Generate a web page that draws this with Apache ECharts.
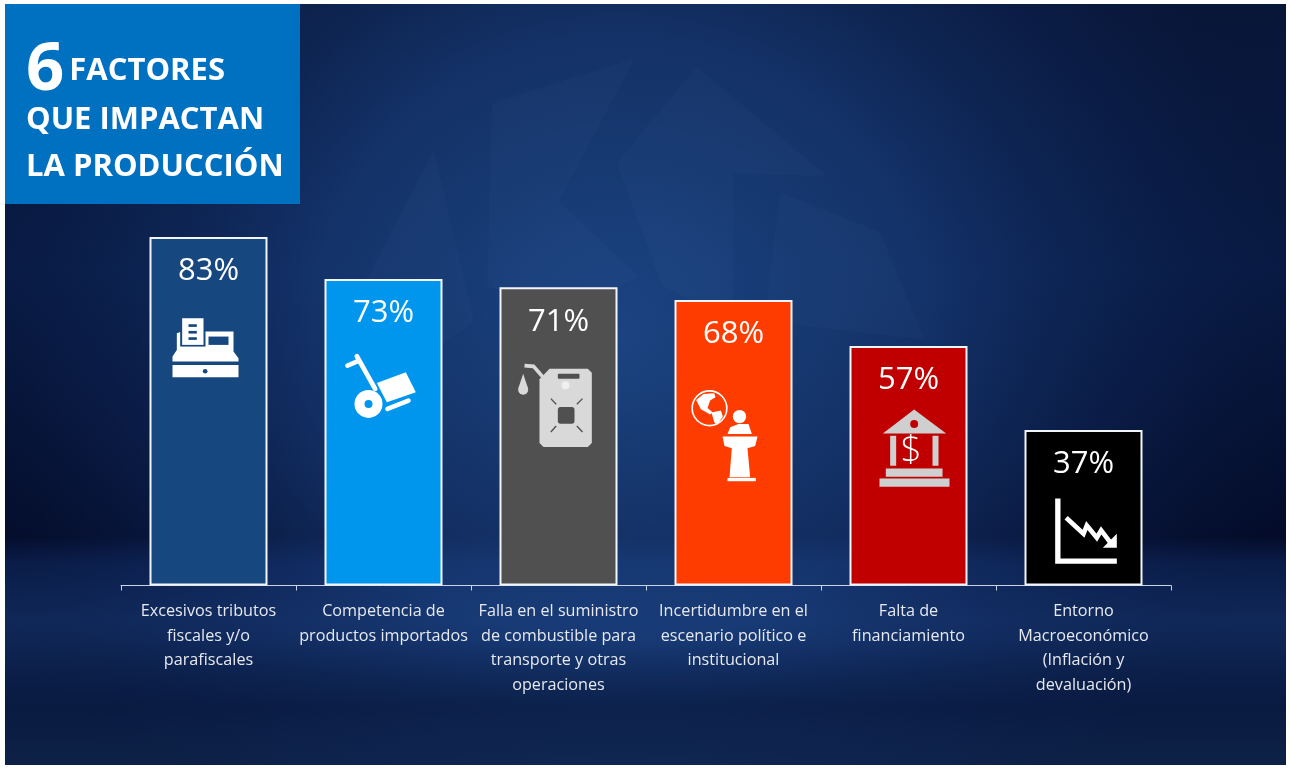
<!DOCTYPE html>
<html><head><meta charset="utf-8">
<style>html,body{margin:0;padding:0;background:#fff}#c{width:1290px;height:770px}</style>
<script src="https://cdn.jsdelivr.net/npm/echarts@6/dist/echarts.min.js"></script>
</head><body><div id="c"></div>
<script>
const categories = [
  'Excesivos tributos\nfiscales y/o\nparafiscales',
  'Competencia de\nproductos importados',
  'Falla en el suministro\nde combustible para\ntransporte y otras\noperaciones',
  'Incertidumbre en el\nescenario político e\ninstitucional',
  'Falta de\nfinanciamiento',
  'Entorno\nMacroeconómico\n(Inflación y\ndevaluación)'
];
const values = [83, 73, 71, 68, 57, 37];
const barColors = ['#17477f', '#0096ee', '#505050', '#ff3c00', '#c00000', '#000000'];

const W = '#ffffff', G = '#d9d9d9', B = '#cfcfcf';
const R = (x,y,w,h,fill,r) => ({type:'rect',shape:{x,y,width:w,height:h,r:r||0},style:{fill}});
const C = (cx,cy,r,fill) => ({type:'circle',shape:{cx,cy,r},style:{fill}});
const P = (points,fill) => ({type:'polygon',shape:{points},style:{fill}});
const L = (points,stroke,lineWidth,cap) => ({type:'polyline',shape:{points},style:{fill:null,stroke,lineWidth,lineCap:cap||'butt',lineJoin:'miter'}});

// Icon drawings, local units are 1/3 px, anchored on the top-centre of their bar
const icons = [
  {anchor:[205,21], draw:c=>[
    P([[110,310],[125,305],[280,305],[280,365],[295,385],[295,395],[97,395],[97,380],[110,360]],W),
    R(120,260,76,90,c), R(126,265,64,80,W),
    R(145,283,25,8,c), R(145,303,25,8,c), R(145,322,25,8,c),
    R(205,320,60,25,c),
    R(97,405,198,37,W), C(195,424,7,c)
  ]},
  {anchor:[730,150], draw:c=>[
    L([[622,410],[655,396]],W,14,'round'),
    L([[650,382],[705,480]],W,14,'round'),
    C(685,525,42,W), C(685,525,12,c),
    P([[710,462],[797,430],[827,490],[740,520]],W),
    L([[742,540],[805,515]],W,14,'round')
  ]},
  {anchor:[205,21], draw:c=>[
    L([[103,256],[130,258],[165,298]],G,11),
    P([[178,265],[293,265],[305,277],[305,488],[293,500],[160,500],[148,488],[148,297]],G),
    R(203,280,65,15,c,3), C(226,315,12,'#efefef'), R(203,380,50,50,c,8),
    L([[182,355],[198,372]],c,4), L([[277,355],[260,372]],c,4),
    L([[182,455],[198,437]],c,4), L([[277,455],[260,437]],c,4),
    C(99,328,15,G), P([[99,280],[113,322],[85,322]],G)
  ]},
  {anchor:[730,60], draw:c=>[
    {type:'circle',shape:{cx:658,cy:385,r:52},style:{fill:null,stroke:W,lineWidth:5}},
    P([[618,360],[640,342],[672,340],[676,352],[660,362],[652,384],[668,398],[660,404],[632,388]],W),
    P([[664,398],[692,392],[698,410],[680,436],[672,426]],W),
    C(748,410,20,W),
    P([[712,462],[720,442],[745,432],[775,432],[785,462]],W),
    P([[697,470],[802,470],[795,498],[772,505],[780,592],[718,592],[725,505],[703,498]],W),
    R(712,594,85,10,W)
  ]},
  {anchor:[205,18], draw:c=>[
    P([[222,208],[318,280],[128,280]],B), C(222,252,12,c),
    R(150,287,18,90,B), R(277,287,18,90,B),
    {type:'text',style:{text:'$',x:213,y:335,fill:W,fontSize:112,fontWeight:300,fontFamily:'Open Sans',align:'center',verticalAlign:'middle'}},
    R(137,385,170,25,B), R(118,415,210,25,B)
  ]},
  {anchor:[730,267], draw:c=>[
    L([[653,472],[653,660],[830,660]],W,16),
    L([[678,530],[730,578],[740,553],[770,590],[783,568],[812,606]],W,14),
    P([[830,578],[830,620],[788,620]],W)
  ]}
];

const chart = echarts.init(document.getElementById('c'), null, {renderer:'canvas'});
const wm = 'rgba(130,165,210,0.03)';
const poly = pts => ({type:'polygon',z:-7,silent:true,shape:{points:pts},style:{fill:wm}});
chart.setOption({
  animation:false,
  backgroundColor:'#ffffff',
  title:{
    left:26, top:46, padding:0, itemGap:0,
    text:'{big|6} {a|FACTORES}\n{a|QUE IMPACTAN}\n{a|LA PRODUCCIÓN}',
    textStyle:{rich:{
      big:{fontFamily:'Open Sans',fontWeight:700,fontSize:67,color:'#fff',lineHeight:50,verticalAlign:'middle'},
      a:{fontFamily:'Open Sans',fontWeight:700,fontSize:31,color:'#fff',lineHeight:47.5,verticalAlign:'middle'}
    }}
  },
  graphic:{elements:[
    {type:'rect',z:-10,silent:true,shape:{x:5,y:4,width:1281,height:761},
      style:{fill:{type:'linear',x:0,y:0,x2:0,y2:1,colorStops:[
        {offset:0,color:'#081638'},{offset:.35,color:'#081a42'},{offset:.7,color:'#040c2a'},
        {offset:.735,color:'#0a1c48'},{offset:.81,color:'#102858'},{offset:.92,color:'#0b1e48'},{offset:1,color:'#0e2145'}]}}},
    {type:'rect',z:-9,silent:true,shape:{x:5,y:4,width:1281,height:761},
      style:{fill:{type:'radial',x:.48,y:.44,r:.9,colorStops:[
        {offset:0,color:'rgba(40,95,170,0.62)'},{offset:.45,color:'rgba(32,78,150,0.48)'},{offset:.8,color:'rgba(20,50,110,0.18)'},{offset:1,color:'rgba(10,30,70,0)'}]}}},
    {type:'rect',z:-8,silent:true,shape:{x:5,y:640,width:1281,height:125},
      style:{fill:{type:'linear',x:0,y:0,x2:0,y2:1,colorStops:[
        {offset:0,color:'rgba(8,24,60,0)'},{offset:.55,color:'rgba(8,24,60,0.6)'},{offset:1,color:'rgba(12,32,70,0.4)'}]}}},
    poly([[434,150],[474,321],[395,380],[345,321]]),
    poly([[635,58],[492,103],[487,286],[561,310],[639,277],[559,201]]),
    poly([[697,67],[827,176],[733,174],[733,321],[662,286],[617,163]]),
    poly([[780,192],[880,232],[925,340],[764,321]]),
    {type:'rect',z:-5,silent:true,shape:{x:5,y:4,width:295,height:200},style:{fill:'#0070c0'}}
  ]},
  grid:{left:121,width:1050,top:165.5,height:420,containLabel:false},
  xAxis:{
    type:'category',data:categories,
    axisLine:{lineStyle:{color:'#c9d3e3',width:1}},
    axisTick:{show:true,length:5,alignWithLabel:false,lineStyle:{color:'#c9d3e3'}},
    axisLabel:{interval:0,margin:14,color:'#e6e9ef',fontFamily:'Open Sans',fontSize:16.2,lineHeight:24.5,align:'center'}
  },
  yAxis:{type:'value',min:0,max:100,show:false,splitLine:{show:false}},
  series:[
    {type:'bar',barWidth:118,
     data:values.map((v,i)=>({value:v,itemStyle:{color:barColors[i],borderColor:'#f2f5f9',borderWidth:2}})),
     label:{show:true,position:'insideTop',distance:19,formatter:'{c}%',color:'#fff',fontFamily:'Open Sans',fontSize:31}},
    {type:'custom',z:5,silent:true,
     data:values.map((v,i)=>[i,v]),
     encode:{x:0,y:1},
     renderItem:(params,api)=>{
       const i=params.dataIndex, p=api.coord([api.value(0),api.value(1)]), ic=icons[i];
       return {type:'group',x:p[0]-ic.anchor[0]/3,y:p[1]-ic.anchor[1]/3,scaleX:1/3,scaleY:1/3,children:ic.draw(barColors[i])};
     }}
  ]
});
</script></body></html>
